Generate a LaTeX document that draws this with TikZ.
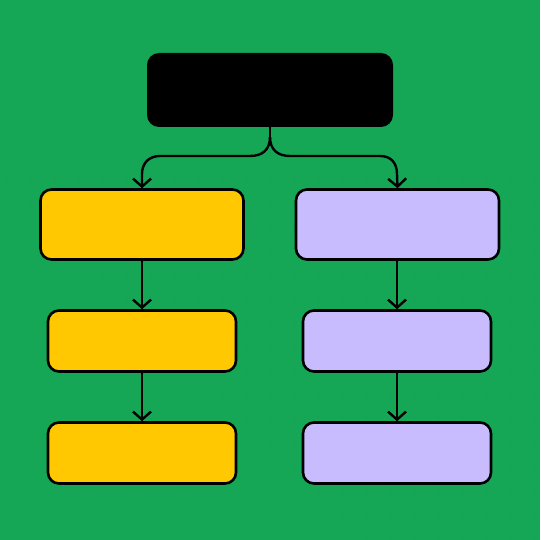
\documentclass[tikz,border=0pt]{standalone}
\usetikzlibrary{arrows.meta}
\definecolor{bg}{HTML}{15A756}
\definecolor{dotc}{HTML}{1E9E55}
\definecolor{yel}{HTML}{FFC800}
\definecolor{pur}{HTML}{C8BCFF}
\begin{document}
\begin{tikzpicture}[x=1pt,y=-1pt,
  box/.style={draw=black,line width=2.6pt,rounded corners=11pt},
  conn/.style={draw=black,line width=2.4pt,-{Straight Barb[length=8pt,width=18pt,line width=2.4pt]}},
  line/.style={draw=black,line width=2.4pt}]
\fill[bg] (0,0) rectangle (540,540);
\useasboundingbox (0,0) rectangle (540,540);
\foreach \i in {0,...,22}{\foreach \j in {0,...,22}{
  \fill[dotc] (6+24*\i,9+24*\j) circle (1pt);}}
% top
\node[fill=black,rounded corners=12pt,minimum width=246pt,minimum height=74pt,inner sep=0pt] (top) at (270,90) {};
% left column
\node[box,fill=yel,minimum width=203pt,minimum height=70pt] (l1) at (142,224.5) {};
\node[box,fill=yel,minimum width=188pt,minimum height=61pt] (l2) at (142,341) {};
\node[box,fill=yel,minimum width=188pt,minimum height=61pt] (l3) at (142,453) {};
% right column
\node[box,fill=pur,minimum width=203pt,minimum height=70pt] (r1) at (397.5,224.5) {};
\node[box,fill=pur,minimum width=188pt,minimum height=61pt] (r2) at (397,341) {};
\node[box,fill=pur,minimum width=188pt,minimum height=61pt] (r3) at (397,453) {};
\coordinate (split) at (270,137);
\draw[line] (top.south) -- (split);
\draw[conn] (split) .. controls (270,150) and (262,156) .. (250,156) -- (160,156)
  .. controls (149,156) and (142,163) .. (142,174) -- (l1.north);
\draw[conn] (split) .. controls (270,150) and (278,156) .. (290,156) -- (380,156)
  .. controls (391,156) and (397,163) .. (397,174) -- (r1.north);
\draw[conn] (l1.south) -- (l2.north);
\draw[conn] (l2.south) -- (l3.north);
\draw[conn] (r1.south-|r2.north) -- (r2.north);
\draw[conn] (r2.south) -- (r3.north);
\end{tikzpicture}
\end{document}
